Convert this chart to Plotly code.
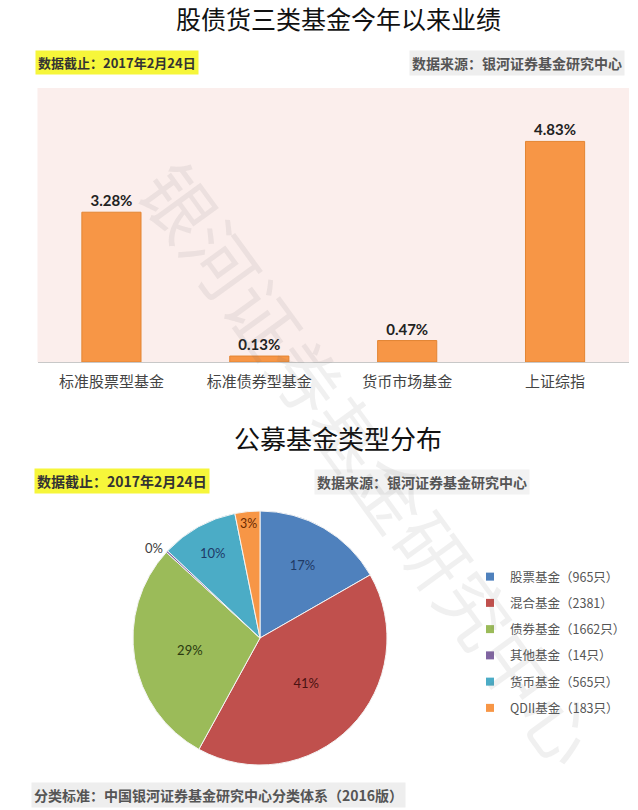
import plotly.graph_objects as go

W, H = 638, 810

# ---- data ----
bar_categories = ["标准股票型基金", "标准债券型基金", "货币市场基金", "上证综指"]
bar_values = [3.28, 0.13, 0.47, 4.83]

pie_labels = ["股票基金（965只）", "混合基金（2381）", "债券基金（1662只）",
              "其他基金（14只）", "货币基金（565只）", "QDII基金（183只）"]
pie_values = [965, 2381, 1662, 14, 565, 183]
pie_colors = ["#4F81BD", "#C0504D", "#9BBB59", "#8064A2", "#4BACC6", "#F79646"]
pie_text_colors = ["#1F3A66", "#4A1212", "#2A3A10", "#404040", "#1F3A66", "#6B2A00"]
pie_text_pos = ["inside", "inside", "inside", "outside", "inside", "inside"]

CJK = "Noto Sans CJK SC"


def px(x):
    return x / W


def py(y):
    return 1 - y / H


fig = go.Figure()

fig.add_trace(go.Bar(
    x=bar_categories, y=bar_values,
    marker=dict(color="#F79646", line=dict(color="#E38533", width=1)),
    width=0.4,
    texttemplate="<b>%{y:.2f}%</b>", textposition="outside",
    textfont=dict(family="Lato, Open Sans", size=15, color="#222222"),
    cliponaxis=False, showlegend=False, hoverinfo="skip",
))

fig.add_trace(go.Pie(
    labels=pie_labels, values=pie_values,
    marker=dict(colors=pie_colors, line=dict(color="#F4F4F4", width=1)),
    sort=False, direction="clockwise", rotation=0,
    texttemplate="%{percent:.0%}", textposition=pie_text_pos,
    insidetextorientation="horizontal",
    textfont=dict(family="Lato, Open Sans", size=13, color=pie_text_colors),
    domain=dict(x=[px(133), px(387)], y=[py(765), py(511)]),
    showlegend=False, hoverinfo="skip",
))

# legend entries matching the pie slices
for i, (lab, col) in enumerate(zip(pie_labels, pie_colors)):
    fig.add_trace(go.Scatter(
        x=[None], y=[None], mode="markers", name=lab,
        marker=dict(symbol="square", size=8, color=col),
        legendgroup=f"g{i}", showlegend=True, hoverinfo="skip",
    ))

annotations = [
    dict(text="股债货三类基金今年以来业绩", x=px(338), y=py(18),
         font=dict(family=CJK, size=25, color="#111111")),
    dict(text="<b>数据截止：2017年2月24日</b>", x=px(117), y=py(63),
         font=dict(family=CJK, size=13, color="#333333"), bgcolor="#F6F63A", borderpad=2),
    dict(text="<b>数据来源：银河证券基金研究中心</b>", x=px(517), y=py(63),
         font=dict(family=CJK, size=14, color="#555555"), bgcolor="#EEEEEE", borderpad=2),
    dict(text="公募基金类型分布", x=px(338), y=py(437),
         font=dict(family=CJK, size=26, color="#111111")),
    dict(text="<b>数据截止：2017年2月24日</b>", x=px(122), y=py(481),
         font=dict(family=CJK, size=14, color="#333333"), bgcolor="#F6F63A", borderpad=2),
    dict(text="<b>数据来源：银河证券基金研究中心</b>", x=px(422), y=py(482),
         font=dict(family=CJK, size=14, color="#555555"), bgcolor="#F2F2F2", borderpad=2),
    dict(text="<b>分类标准：中国银河证券基金研究中心分类体系（2016版）</b>", x=px(218), y=py(795),
         font=dict(family=CJK, size=14, color="#555555"), bgcolor="#EEEEEE", borderpad=2),
    dict(text="银河证券基金研究中心", x=px(372), y=py(462), textangle=54,
         font=dict(family=CJK, size=72, color="rgba(110,110,110,0.10)")),
]
for a in annotations:
    a.update(xref="paper", yref="paper", showarrow=False, xanchor="center", yanchor="middle")

fig.update_layout(
    width=W, height=H,
    margin=dict(l=0, r=0, t=0, b=0),
    paper_bgcolor="#FFFFFF",
    plot_bgcolor="#FBEEEC",
    font=dict(family=CJK),
    xaxis=dict(domain=[px(37.5), px(629)], showline=True, linecolor="#C8C8C8", linewidth=1,
               ticks="", tickfont=dict(family=CJK, size=15, color="#444444"),
               ticklabelstandoff=6, fixedrange=True),
    yaxis=dict(domain=[py(362), py(88)], range=[0, 6], visible=False, fixedrange=True),
    legend=dict(x=px(470), y=py(562), xanchor="left", yanchor="top",
                font=dict(family=CJK, size=12.5, color="#555555"),
                tracegroupgap=7, itemwidth=30, bgcolor="rgba(0,0,0,0)"),
    annotations=annotations,
    bargap=0.6,
)

fig.write_html("out.html", config={"displayModeBar": False},
               post_script="document.body.style.margin='0';document.body.style.overflow='hidden';")
